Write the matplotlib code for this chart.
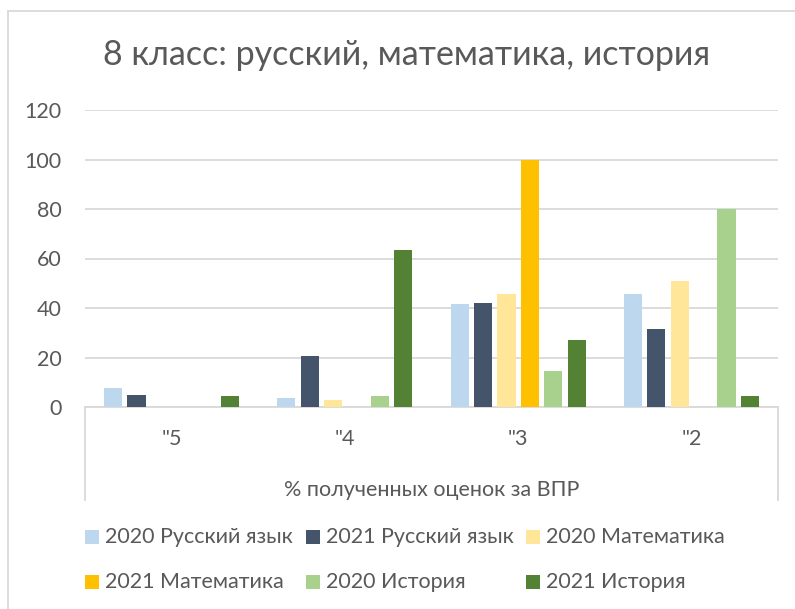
import matplotlib
matplotlib.use("Agg")
import matplotlib.pyplot as plt
from matplotlib.patches import Rectangle
from matplotlib.lines import Line2D
import numpy as np

plt.rcParams['font.family'] = ['Lato', 'DejaVu Sans']

title = "8 класс: русский, математика, история"
categories = ['"5', '"4', '"3', '"2']
xlabel = "% полученных оценок за ВПР"
series_names = ["2020 Русский язык", "2021 Русский язык", "2020 Математика",
                "2021 Математика", "2020 История", "2021 История"]
rus_2020 = [7.6, 3.7, 41.8, 45.8]
rus_2021 = [4.9, 20.8, 41.9, 31.4]
mat_2020 = [0, 2.8, 45.8, 50.9]
mat_2021 = [0, 0, 100, 0]
ist_2020 = [0, 4.6, 14.5, 80]
ist_2021 = [4.4, 63.5, 27.1, 4.4]
yticks = [0, 20, 40, 60, 80, 100, 120]
colors = ["#BDD7EE", "#44546A", "#FFE699", "#FFC000", "#A9D18E", "#548235"]
series = [rus_2020, rus_2021, mat_2020, mat_2021, ist_2020, ist_2021]

W, H = 795, 609
fig = plt.figure(figsize=(W / 100, H / 100), dpi=100)
txt = "#595959"
grid = "#D9D9D9"
fs = 15.5

L, R, B, T = 85, 778, 407, 110
ax = fig.add_axes([L / W, 1 - B / H, (R - L) / W, (B - T) / H])
x = np.arange(len(categories))
pitch = 0.135
bw = 0.105
for i, (vals, c) in enumerate(zip(series, colors)):
    ax.bar(x + (i - 2.5) * pitch, vals, width=bw, color=c, zorder=3)
ax.set_xlim(-0.5, len(categories) - 0.5)
ax.set_ylim(0, 120)
ax.set_yticks(yticks)
ax.set_yticklabels([str(t) for t in yticks], fontsize=fs, color=txt)
ax.tick_params(axis='y', length=0, pad=17)
ax.set_xticks(x)
ax.set_xticklabels(categories, fontsize=fs, color=txt)
ax.tick_params(axis='x', length=0, pad=16)
ax.grid(axis='y', color=grid, linewidth=1.3, zorder=0)
for s in ['top', 'right', 'left']:
    ax.spines[s].set_visible(False)
ax.spines['bottom'].set_color(grid)
ax.spines['bottom'].set_linewidth(1.3)
ax.set_xlabel(xlabel, fontsize=fs, color=txt, labelpad=22)

# category box verticals
for xp in (L, R):
    fig.add_artist(Line2D([xp / W, xp / W], [1 - B / H, 1 - 500 / H], color=grid, linewidth=1.3))
# chart border
fig.add_artist(Line2D([8 / W, 1], [1 - 11 / H, 1 - 11 / H], color=grid, linewidth=1.3))
fig.add_artist(Line2D([8 / W, 8 / W], [1 - 11 / H, 0], color=grid, linewidth=1.3))

fig.text(407 / W, 1 - 55 / H, title, fontsize=24.5, color=txt, ha='center', va='center')

# legend
colx = [85, 306, 526]
rowy = [537, 582]
sq = 14
for i, (name, c) in enumerate(zip(series_names, colors)):
    r, col = divmod(i, 3)
    x0, y0 = colx[col], rowy[r]
    fig.add_artist(Rectangle((x0 / W, 1 - (y0 + sq / 2) / H), sq / W, sq / H,
                             transform=fig.transFigure, facecolor=c, edgecolor='none'))
    fig.text((x0 + 20) / W, 1 - y0 / H, name, fontsize=fs, color=txt, ha='left', va='center')

fig.savefig("out.png", dpi=100)
